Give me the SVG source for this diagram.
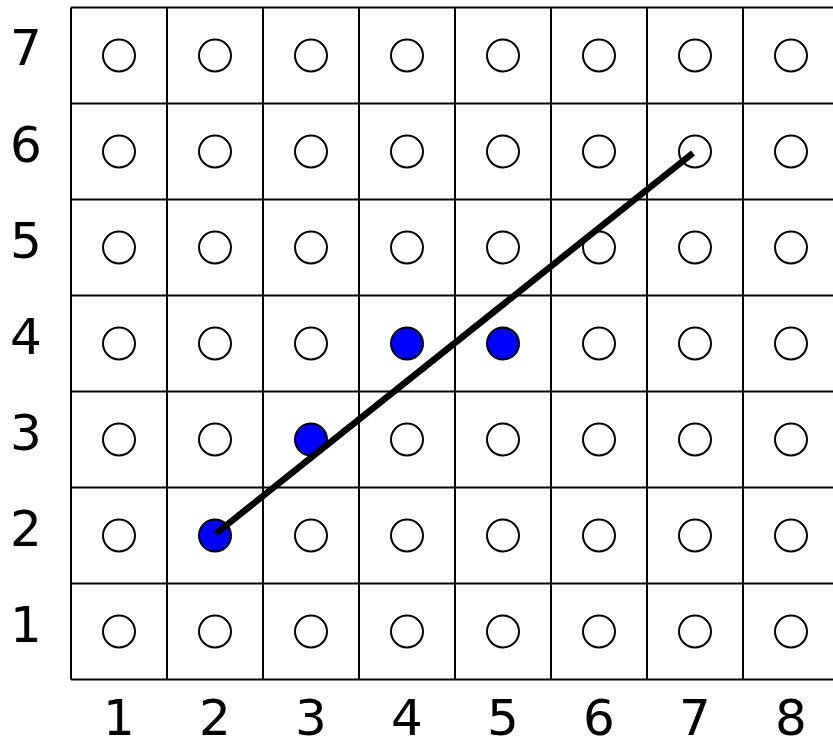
<svg xmlns="http://www.w3.org/2000/svg" width="833" height="742" viewBox="0 0 833 742">
<style>
.grid{stroke:#000;stroke-width:2;fill:none}
.pt{fill:#fff;stroke:#000;stroke-width:2}
.on{fill:#0000ff;stroke:#000;stroke-width:2}
.lbl{font-family:"DejaVu Sans",Verdana,sans-serif;font-size:50px;fill:#000;text-anchor:middle}
</style>
<rect width="833" height="742" fill="#fff"/>
<g id="grid" class="grid">
<path d="M71,7.5H840M71,103.5H840M71,199.5H840M71,295.5H840M71,391.5H840M71,487.5H840M71,583.5H840M71,679.5H840"/>
<path d="M71,7.5V679.5M167,7.5V679.5M263,7.5V679.5M359,7.5V679.5M455,7.5V679.5M551,7.5V679.5M647,7.5V679.5M743,7.5V679.5"/>
</g>
<g id="points">
<g id="row7"><circle class="pt" cx="119" cy="55.5" r="16"/><circle class="pt" cx="215" cy="55.5" r="16"/><circle class="pt" cx="311" cy="55.5" r="16"/><circle class="pt" cx="407" cy="55.5" r="16"/><circle class="pt" cx="503" cy="55.5" r="16"/><circle class="pt" cx="599" cy="55.5" r="16"/><circle class="pt" cx="695" cy="55.5" r="16"/><circle class="pt" cx="791" cy="55.5" r="16"/></g>
<g id="row6"><circle class="pt" cx="119" cy="151.5" r="16"/><circle class="pt" cx="215" cy="151.5" r="16"/><circle class="pt" cx="311" cy="151.5" r="16"/><circle class="pt" cx="407" cy="151.5" r="16"/><circle class="pt" cx="503" cy="151.5" r="16"/><circle class="pt" cx="599" cy="151.5" r="16"/><circle class="pt" cx="695" cy="151.5" r="16"/><circle class="pt" cx="791" cy="151.5" r="16"/></g>
<g id="row5"><circle class="pt" cx="119" cy="247.5" r="16"/><circle class="pt" cx="215" cy="247.5" r="16"/><circle class="pt" cx="311" cy="247.5" r="16"/><circle class="pt" cx="407" cy="247.5" r="16"/><circle class="pt" cx="503" cy="247.5" r="16"/><circle class="pt" cx="599" cy="247.5" r="16"/><circle class="pt" cx="695" cy="247.5" r="16"/><circle class="pt" cx="791" cy="247.5" r="16"/></g>
<g id="row4"><circle class="pt" cx="119" cy="343.5" r="16"/><circle class="pt" cx="215" cy="343.5" r="16"/><circle class="pt" cx="311" cy="343.5" r="16"/><circle class="on" cx="407" cy="343.5" r="16"/><circle class="on" cx="503" cy="343.5" r="16"/><circle class="pt" cx="599" cy="343.5" r="16"/><circle class="pt" cx="695" cy="343.5" r="16"/><circle class="pt" cx="791" cy="343.5" r="16"/></g>
<g id="row3"><circle class="pt" cx="119" cy="439.5" r="16"/><circle class="pt" cx="215" cy="439.5" r="16"/><circle class="on" cx="311" cy="439.5" r="16"/><circle class="pt" cx="407" cy="439.5" r="16"/><circle class="pt" cx="503" cy="439.5" r="16"/><circle class="pt" cx="599" cy="439.5" r="16"/><circle class="pt" cx="695" cy="439.5" r="16"/><circle class="pt" cx="791" cy="439.5" r="16"/></g>
<g id="row2"><circle class="pt" cx="119" cy="535.5" r="16"/><circle class="on" cx="215" cy="535.5" r="16"/><circle class="pt" cx="311" cy="535.5" r="16"/><circle class="pt" cx="407" cy="535.5" r="16"/><circle class="pt" cx="503" cy="535.5" r="16"/><circle class="pt" cx="599" cy="535.5" r="16"/><circle class="pt" cx="695" cy="535.5" r="16"/><circle class="pt" cx="791" cy="535.5" r="16"/></g>
<g id="row1"><circle class="pt" cx="119" cy="631.5" r="16"/><circle class="pt" cx="215" cy="631.5" r="16"/><circle class="pt" cx="311" cy="631.5" r="16"/><circle class="pt" cx="407" cy="631.5" r="16"/><circle class="pt" cx="503" cy="631.5" r="16"/><circle class="pt" cx="599" cy="631.5" r="16"/><circle class="pt" cx="695" cy="631.5" r="16"/><circle class="pt" cx="791" cy="631.5" r="16"/></g>
</g>
<g id="connectors">
<line x1="216" y1="533.5" x2="693" y2="153" stroke="#000" stroke-width="6.5"/>
</g>
<g id="ylabels" class="lbl">
<text x="26" y="65">7</text>
<text x="26" y="161.5">6</text>
<text x="26" y="257.5">5</text>
<text x="26" y="353.5">4</text>
<text x="26" y="449.5">3</text>
<text x="26" y="545.5">2</text>
<text x="26" y="641.5">1</text>
</g>
<g id="xlabels" class="lbl">
<text x="119" y="735">1</text>
<text x="215" y="735">2</text>
<text x="311" y="735">3</text>
<text x="407" y="735">4</text>
<text x="503" y="735">5</text>
<text x="599" y="735">6</text>
<text x="695" y="735">7</text>
<text x="791" y="735">8</text>
</g>
</svg>
